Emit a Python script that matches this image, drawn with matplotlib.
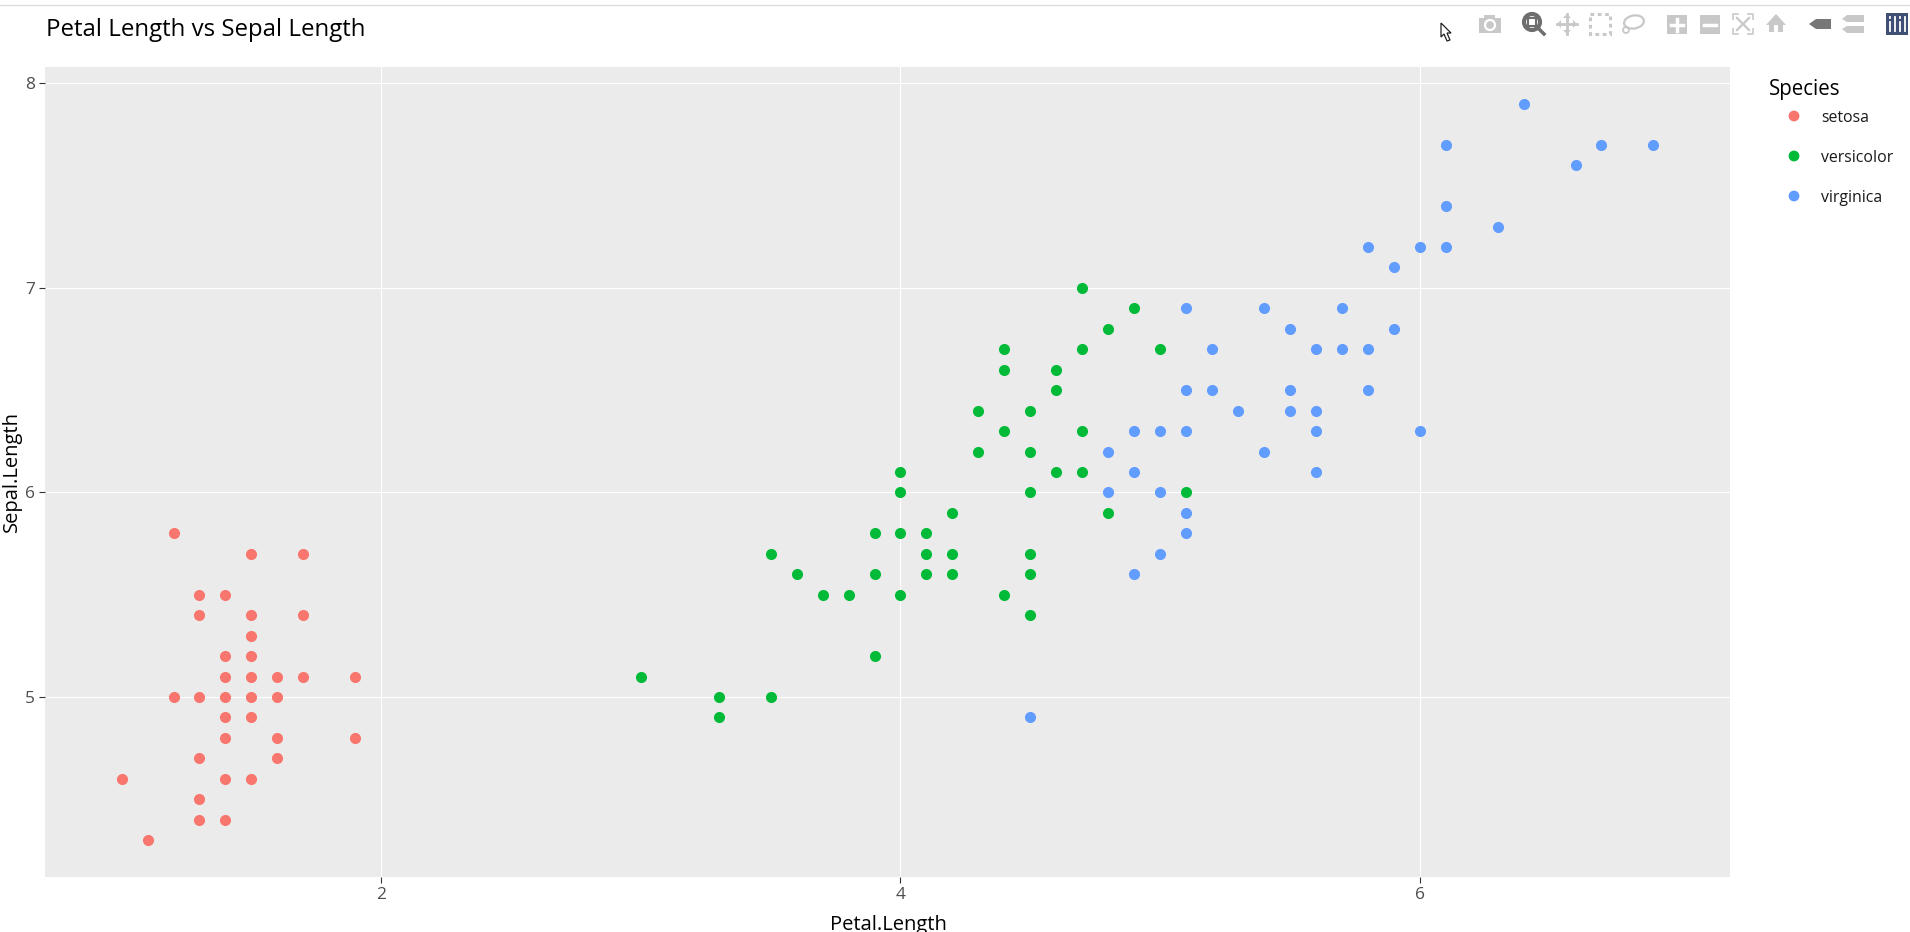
from matplotlib import pyplot as plt
from matplotlib.patches import Circle, Polygon, Rectangle, Ellipse

plt.rcParams['font.family'] = ['Open Sans', 'DejaVu Sans']

W, H = 1910, 932

# (petal length, sepal length)
setosa_x = [1.2, 1.5, 1.7, 1.3, 1.4, 1.3, 1.5, 1.7, 1.5, 1.4, 1.5, 1.4, 1.5, 1.6, 1.7, 1.9,
            1.2, 1.3, 1.4, 1.5, 1.6, 1.4, 1.5, 1.4, 1.6, 1.9, 1.3, 1.6, 1.0, 1.4, 1.5, 1.3,
            1.3, 1.4, 1.1]
setosa_y = [5.8, 5.7, 5.7, 5.5, 5.5, 5.4, 5.4, 5.4, 5.3, 5.2, 5.2, 5.1, 5.1, 5.1, 5.1, 5.1,
            5.0, 5.0, 5.0, 5.0, 5.0, 4.9, 4.9, 4.8, 4.8, 4.8, 4.7, 4.7, 4.6, 4.6, 4.6, 4.5,
            4.4, 4.4, 4.3]

versicolor_x = [4.7, 4.9, 4.8, 4.4, 4.7, 5.0, 4.4, 4.6, 4.6, 4.3, 4.5, 4.4, 4.7, 4.3, 4.5,
                4.0, 4.6, 4.7, 4.0, 4.5, 5.1, 4.2, 4.8, 3.9, 4.0, 4.1, 3.5, 4.1, 4.2, 4.5,
                3.6, 3.9, 4.1, 4.2, 4.5, 3.7, 3.8, 4.0, 4.4, 4.5, 3.9, 3.0, 3.3, 3.5, 3.3]
versicolor_y = [7.0, 6.9, 6.8, 6.7, 6.7, 6.7, 6.6, 6.6, 6.5, 6.4, 6.4, 6.3, 6.3, 6.2, 6.2,
                6.1, 6.1, 6.1, 6.0, 6.0, 6.0, 5.9, 5.9, 5.8, 5.8, 5.8, 5.7, 5.7, 5.7, 5.7,
                5.6, 5.6, 5.6, 5.6, 5.6, 5.5, 5.5, 5.5, 5.5, 5.4, 5.2, 5.1, 5.0, 5.0, 4.9]

virginica_x = [6.4, 6.1, 6.7, 6.9, 6.6, 6.1, 6.3, 5.8, 6.0, 6.1, 5.9, 5.1, 5.4, 5.7, 5.5,
               5.9, 5.2, 5.6, 5.7, 5.8, 5.1, 5.2, 5.5, 5.8, 5.3, 5.5, 5.6, 4.9, 5.0, 5.1,
               5.6, 6.0, 4.8, 5.4, 4.9, 5.6, 4.8, 5.0, 5.1, 5.1, 5.0, 4.9, 4.5]
virginica_y = [7.9, 7.7, 7.7, 7.7, 7.6, 7.4, 7.3, 7.2, 7.2, 7.2, 7.1, 6.9, 6.9, 6.9, 6.8,
               6.8, 6.7, 6.7, 6.7, 6.7, 6.5, 6.5, 6.5, 6.5, 6.4, 6.4, 6.4, 6.3, 6.3, 6.3,
               6.3, 6.3, 6.2, 6.2, 6.1, 6.1, 6.0, 6.0, 5.9, 5.8, 5.7, 5.6, 4.9]

species = ['setosa', 'versicolor', 'virginica']
colors = ['#F8766D', '#00BA38', '#619CFF']
x_ticks = [2, 4, 6]
y_ticks = [5, 6, 7, 8]

fig = plt.figure(figsize=(W / 100, H / 100), dpi=100)

# plot panel, pixel box 45..1730 by 67..877
ax = fig.add_axes([45 / W, 1 - 877 / H, (1730 - 45) / W, (877 - 67) / H])
ax.set_facecolor('#EBEBEB')
ax.set_xlim(0.705, 7.195)
ax.set_ylim(4.12, 8.08)
ax.grid(True, color='white', linewidth=0.8)
ax.set_axisbelow(True)
for s in ax.spines.values():
    s.set_visible(False)
ax.set_xticks(x_ticks)
ax.set_yticks(y_ticks)
ax.tick_params(length=4, width=0.8, color='#333333', labelcolor='#4D4D4D', labelsize=12.5, pad=3)

series = [(setosa_x, setosa_y), (versicolor_x, versicolor_y), (virginica_x, virginica_y)]
for (x, y), c in zip(series, colors):
    ax.scatter(x, y, s=64, color=c, linewidths=0, zorder=3)

# everything outside the panel is placed in pixels on an overlay
ov = fig.add_axes([0, 0, 1, 1], facecolor='none')
ov.set_xlim(0, W)
ov.set_ylim(H, 0)
ov.axis('off')

ov.plot([0, W], [4.5, 4.5], color='#DDDDDD', linewidth=1)
ov.text(46, 30, 'Petal Length vs Sepal Length', fontsize=17.3, color='black', va='center')
ov.text(888, 925, 'Petal.Length', fontsize=14.5, ha='center', va='center', color='black')
ov.text(12, 472, 'Sepal.Length', fontsize=14.5, rotation=90, ha='center', va='center', color='black')

# legend
ov.text(1769, 89, 'Species', fontsize=14.8, va='center', color='black')
for yy, name, c in zip([116, 156, 196], species, colors):
    ov.add_patch(Circle((1794, yy), 5.4, color=c, lw=0))
    ov.text(1821, yy + 1.5, name, fontsize=11.4, va='center', color='#1a1a1a')

# toolbar icons
light = '#C8C8C8'
dark = '#6E6E6E'
# camera
ov.add_patch(Rectangle((1479, 18), 22, 15, color=light, lw=0))
ov.add_patch(Rectangle((1484, 15), 11, 4, color=light, lw=0))
ov.add_patch(Circle((1490, 25), 5, fill=False, ec='white', lw=1.6))
# zoom
ov.plot([1538, 1544], [28, 34], color=dark, lw=2.5)
ov.add_patch(Circle((1532, 22), 8, fill=False, ec=dark, lw=3))
ov.add_patch(Rectangle((1528, 18), 8, 8, fill=False, ec=dark, lw=1.5))
# pan
ov.plot([1557, 1577], [24, 24], color=light, lw=2)
ov.plot([1567, 1567], [14, 34], color=light, lw=2)
for p in [[(1557, 24), (1561, 20), (1561, 28)], [(1577, 24), (1573, 20), (1573, 28)],
          [(1567, 14), (1563, 18), (1571, 18)], [(1567, 34), (1563, 30), (1571, 30)]]:
    ov.add_patch(Polygon(p, color=light, lw=0))
# box select
ov.add_patch(Rectangle((1590, 14), 20, 20, fill=False, ec=light, lw=2.2, ls=(0, (1.2, 1.2))))
# lasso
ov.add_patch(Ellipse((1634, 22), 20, 13, angle=-10, fill=False, ec=light, lw=1.6))
ov.add_patch(Circle((1626, 30), 3, fill=False, ec=light, lw=1.3))
# plus, minus
ov.add_patch(Rectangle((1667, 15), 20, 19, color=light, lw=0))
ov.plot([1671, 1683], [24.5, 24.5], color='white', lw=2.5)
ov.plot([1677, 1677], [18.5, 30.5], color='white', lw=2.5)
ov.add_patch(Rectangle((1700, 15), 20, 19, color=light, lw=0))
ov.plot([1704, 1716], [24.5, 24.5], color='white', lw=2.5)
# autoscale: corner brackets round a cross
for cx, dx in [(1733, 5), (1753, -5)]:
    for cy, dy in [(14, 5), (34, -5)]:
        ov.plot([cx + dx, cx, cx], [cy, cy, cy + dy], color=light, lw=1.2)
ov.plot([1737, 1749], [18, 30], color=light, lw=1.6)
ov.plot([1737, 1749], [30, 18], color=light, lw=1.6)
# home
ov.add_patch(Polygon([(1766, 25), (1776, 14), (1786, 25)], color=light, lw=0))
ov.add_patch(Rectangle((1769, 25), 5, 7, color=light, lw=0))
ov.add_patch(Rectangle((1778, 25), 5, 7, color=light, lw=0))
# hover closest
ov.add_patch(Polygon([(1809, 24), (1816, 19), (1831, 19), (1831, 29), (1816, 29)], color='#777777', lw=0))
# hover compare
ov.add_patch(Polygon([(1842, 19), (1847, 15), (1864, 15), (1864, 22), (1847, 22)], color=light, lw=0))
ov.add_patch(Polygon([(1842, 29), (1847, 26), (1864, 26), (1864, 33), (1847, 33)], color=light, lw=0))
# plotly logo
ov.add_patch(Rectangle((1886, 13), 22, 22, color='#3F4F75', lw=0))
for bx, top in zip([1890, 1895, 1900, 1905], [22, 19, 22, 19]):
    ov.plot([bx, bx], [top, 31], color='white', lw=1.3)
    ov.plot([bx, bx], [16.5, 18], color='white', lw=1.3)

# mouse cursor
ov.add_patch(Polygon([(1441, 23), (1441, 37), (1444, 34), (1447, 41), (1450, 40), (1447, 33), (1451, 33)],
                     facecolor='white', edgecolor='#222222', lw=0.9))

fig.savefig('out.png', dpi=100, facecolor='white')
